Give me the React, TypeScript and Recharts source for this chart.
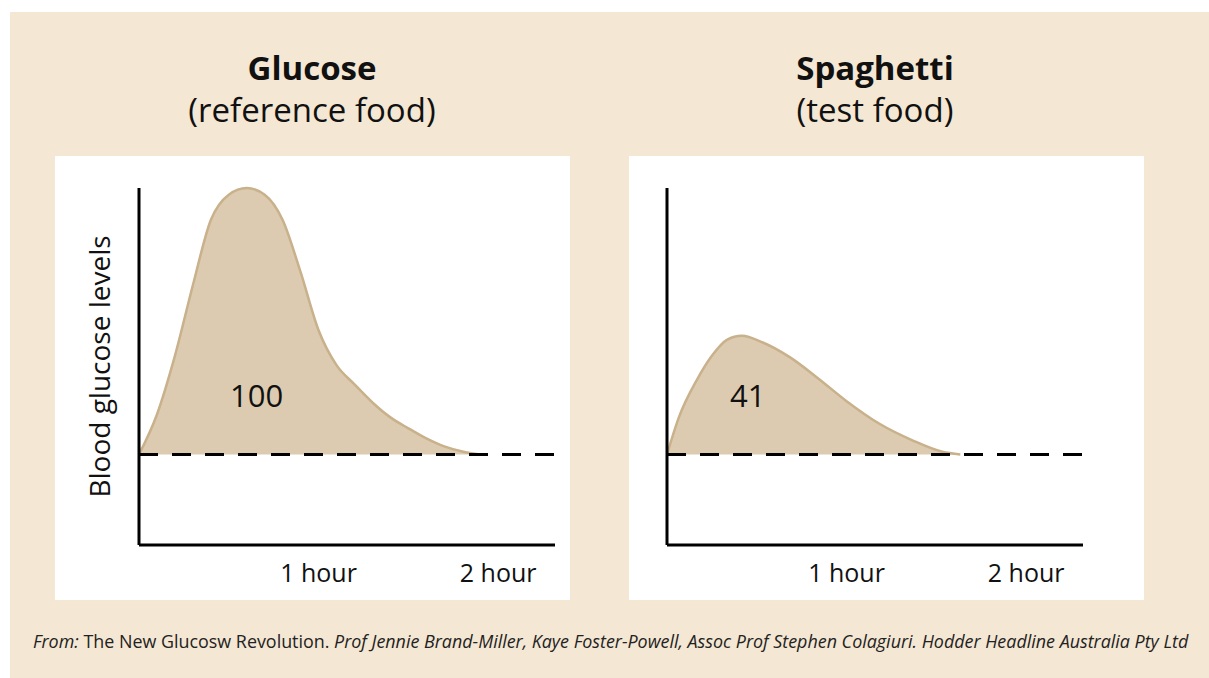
import React from 'react';
import { AreaChart, Area, XAxis, YAxis, ReferenceLine, ReferenceDot } from 'recharts';

// Minutes after eating vs. rise of blood glucose above fasting level (arbitrary units)
const glucoseMinutes = [0, 6, 12, 18, 24, 30, 36, 42, 48, 54, 60, 66, 72, 78, 84, 90, 96, 102, 108, 114];
const glucoseLevels = [0, 15, 37, 63.5, 88, 97.5, 100, 97.5, 88, 68.4, 46.6, 33.5, 26.3, 19.5, 13.9, 9.8, 6, 3, 1.1, 0];
const spaghettiMinutes = [0, 4, 10, 15, 20, 25, 32, 41, 50, 60, 71, 82, 92, 98];
const spaghettiLevels = [0, 14, 28, 37, 43, 44.5, 42, 36.5, 29, 20, 11.5, 5.3, 1, 0];
const hourTicks = [60, 120];
const hourLabels = ['1 hour', '2 hour'];
const giLabels = ['100', '41'];

const glucoseData = glucoseMinutes.map((t, i) => ({ t, v: glucoseLevels[i] }));
const spaghettiData = spaghettiMinutes.map((t, i) => ({ t, v: spaghettiLevels[i] }));

const FONT = "'Open Sans', 'Noto Sans', sans-serif";
const BEIGE = '#f4e7d3';
const FILL = '#dccbb0';
const STROKE = '#c8b18b';

const HourTick = (props: any) => {
  const { x, y, payload } = props;
  const idx = hourTicks.indexOf(payload.value);
  return (
    <text x={x} y={y + 37} textAnchor="middle" fontFamily={FONT} fontSize={25} fill="#111">
      {hourLabels[idx]}
    </text>
  );
};

const YLabel = (props: any) => {
  const vb = props.viewBox || { x: 0, y: 0, width: 0, height: 0 };
  const px = vb.x + 31;
  const py = vb.y + vb.height / 2;
  return (
    <text
      x={px}
      y={py}
      transform={`rotate(-90, ${px}, ${py})`}
      textAnchor="middle"
      fontFamily={FONT}
      fontSize={28}
      fill="#111"
    >
      Blood glucose levels
    </text>
  );
};

type PanelProps = {
  data: { t: number; v: number }[];
  label: string;
  labelT: number;
  marginLeft: number;
  yAxisWidth: number;
  marginRight: number;
  showYLabel: boolean;
};

const Panel = ({ data, label, labelT, marginLeft, yAxisWidth, marginRight, showYLabel }: PanelProps) => (
  <AreaChart
    width={515}
    height={444}
    data={data}
    margin={{ top: 32, right: marginRight, bottom: 15, left: marginLeft }}
  >
    <XAxis
      dataKey="t"
      type="number"
      domain={[0, 139]}
      ticks={hourTicks}
      tickLine={false}
      tickSize={0}
      tickMargin={0}
      height={40}
      axisLine={{ stroke: '#000', strokeWidth: 3 }}
      tick={<HourTick />}
      interval={0}
    />
    <YAxis
      type="number"
      domain={[-34, 100]}
      tick={false}
      tickLine={false}
      width={yAxisWidth}
      axisLine={{ stroke: '#000', strokeWidth: 3 }}
      label={showYLabel ? (p: any) => <YLabel {...p} /> : undefined}
    />
    <Area
      type="monotone"
      dataKey="v"
      baseValue={0}
      stroke={STROKE}
      strokeWidth={2.5}
      fill={FILL}
      fillOpacity={1}
      dot={false}
      activeDot={false}
      isAnimationActive={false}
    />
    <ReferenceLine y={0} stroke="#000" strokeWidth={3} strokeDasharray="19 14" />
    <ReferenceDot
      x={labelT}
      y={21.8}
      r={0}
      fill="none"
      stroke="none"
      label={{ value: label, position: 'center', fontSize: 31, fill: '#111', fontFamily: FONT }}
    />
  </AreaChart>
);

export default function App() {
  return (
    <div style={{ position: 'absolute', left: 0, top: 0, width: 1209, height: 678, background: '#fff', overflow: 'hidden' }}>
      <div style={{ position: 'absolute', left: 10, top: 12, width: 1199, height: 666, background: BEIGE }} />
      <svg width={1209} height={678} style={{ position: 'absolute', left: 0, top: 0 }}>
        <text x={312} y={80} textAnchor="middle" fontFamily={FONT} fontWeight={700} fontSize={33} fill="#111">Glucose</text>
        <text x={312} y={122} textAnchor="middle" fontFamily={FONT} fontSize={33} fill="#111">(reference food)</text>
        <text x={875} y={80} textAnchor="middle" fontFamily={FONT} fontWeight={700} fontSize={33} fill="#111">Spaghetti</text>
        <text x={875} y={122} textAnchor="middle" fontFamily={FONT} fontSize={33} fill="#111">(test food)</text>
        <text x={33} y={648} fontFamily={FONT} fontSize={17.9} fill="#222">
          <tspan fontStyle="italic">From:</tspan>
          <tspan> The New Glucosw Revolution. </tspan>
          <tspan fontStyle="italic">Prof Jennie Brand-Miller, Kaye Foster-Powell, Assoc Prof Stephen Colagiuri. Hodder Headline Australia Pty Ltd</tspan>
        </text>
      </svg>
      <div style={{ position: 'absolute', left: 55, top: 156, width: 515, height: 444, background: '#fff' }}>
        <Panel data={glucoseData} label={giLabels[0]} labelT={39.3} marginLeft={24} yAxisWidth={60} marginRight={15} showYLabel={true} />
      </div>
      <div style={{ position: 'absolute', left: 629, top: 156, width: 515, height: 444, background: '#fff' }}>
        <Panel data={spaghettiData} label={giLabels[1]} labelT={27} marginLeft={0} yAxisWidth={38} marginRight={61} showYLabel={false} />
      </div>
    </div>
  );
}
